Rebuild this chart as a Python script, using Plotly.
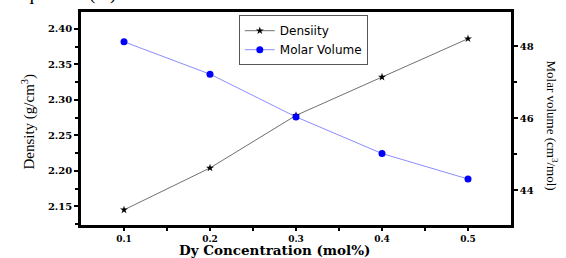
import plotly.graph_objects as go

conc = [0.1, 0.2, 0.3, 0.4, 0.5]
density = [2.145, 2.204, 2.278, 2.332, 2.386]
molar_volume = [48.13, 47.23, 46.04, 45.02, 44.31]
x_ticks = [0.1, 0.2, 0.3, 0.4, 0.5]
x_tick_labels = ["0.1", "0.2", "0.3", "0.4", "0.5"]
y1_ticks = [2.15, 2.20, 2.25, 2.30, 2.35, 2.40]
y1_tick_labels = ["2.15", "2.20", "2.25", "2.30", "2.35", "2.40"]
y2_ticks = [44, 46, 48]
y2_tick_labels = ["44", "46", "48"]

serif = "Liberation Serif, Times New Roman, serif"
wserif = "DejaVu Serif, serif"
sans = "DejaVu Sans, Arial, sans-serif"

fig = go.Figure()
fig.add_trace(go.Scatter(
    x=conc, y=density, name="Densiity", mode="lines+markers",
    line=dict(color="#707070", width=1),
    marker=dict(symbol="star", size=6, color="black"),
    yaxis="y"))
fig.add_trace(go.Scatter(
    x=conc, y=molar_volume, name="Molar Volume", mode="lines+markers",
    line=dict(color="#8c8cff", width=1),
    marker=dict(symbol="circle", size=7, color="#0000ff"),
    yaxis="y2"))

line_style = dict(showline=True, linecolor="black", linewidth=2.5,
                  ticks="outside", tickcolor="black", tickwidth=2,
                  showgrid=False, zeroline=False)

fig.update_layout(
    width=566, height=258,
    margin=dict(l=81, r=55, t=9, b=33),
    paper_bgcolor="white", plot_bgcolor="white",
    showlegend=True,
    legend=dict(x=0.367, y=0.985, xanchor="left", yanchor="top",
                bordercolor="#555555", borderwidth=1, bgcolor="white",
                font=dict(family=sans, size=12, color="black"),
                tracegroupgap=0, itemwidth=30),
    xaxis=dict(range=[0.05, 0.55], tickvals=x_ticks, ticktext=x_tick_labels,
               mirror=True, ticklen=3,
               tickfont=dict(family=wserif, size=9, color="black", weight="bold"),
               minor=dict(tickvals=[0.15, 0.25, 0.35, 0.45], ticks="outside",
                          ticklen=3, tickwidth=2, tickcolor="black"),
               **line_style),
    yaxis=dict(range=[2.1237, 2.4236], tickvals=y1_ticks, ticktext=y1_tick_labels,
               ticklen=4,
               tickfont=dict(family=wserif, size=10, color="black", weight="bold"),
               minor=dict(tickvals=[2.125, 2.175, 2.225, 2.275, 2.325, 2.375], ticks="outside",
                          ticklen=3, tickwidth=2, tickcolor="black"),
               **line_style),
    yaxis2=dict(range=[43.03, 48.96], tickvals=y2_ticks, ticktext=y2_tick_labels,
                overlaying="y", side="right", ticklen=4,
                tickfont=dict(family=wserif, size=10, color="black", weight="bold"),
                minor=dict(tickvals=[45, 47], ticks="outside",
                           ticklen=3, tickwidth=2, tickcolor="black"),
                **line_style),
    annotations=[
        dict(text="Dy Concentration (mol%)", xref="paper", yref="paper",
             x=0.451, y=-0.118, xanchor="center", yanchor="middle", showarrow=False,
             font=dict(family=wserif, size=13.5, color="black", weight="bold")),
        dict(text="Density (g/cm<sup>3</sup>)", xref="paper", yref="paper",
             x=-0.123, y=0.486, xanchor="center", yanchor="middle", showarrow=False,
             textangle=-90, font=dict(family=serif, size=15, color="black")),
        dict(text="Molar volume (cm<sup>3</sup>/mol)", xref="paper", yref="paper",
             x=1.095, y=0.468, xanchor="center", yanchor="middle", showarrow=False,
             textangle=90, font=dict(family=serif, size=13, color="black")),
        dict(text="equation (V).", xref="paper", yref="paper",
             x=-0.158, y=1.03, xanchor="left", yanchor="bottom", showarrow=False,
             font=dict(family=serif, size=20, color="black")),
    ],
)

fig.write_html("out.html", config={"displayModeBar": False},
               post_script="document.body.style.margin='0';document.body.style.overflow='hidden';")
